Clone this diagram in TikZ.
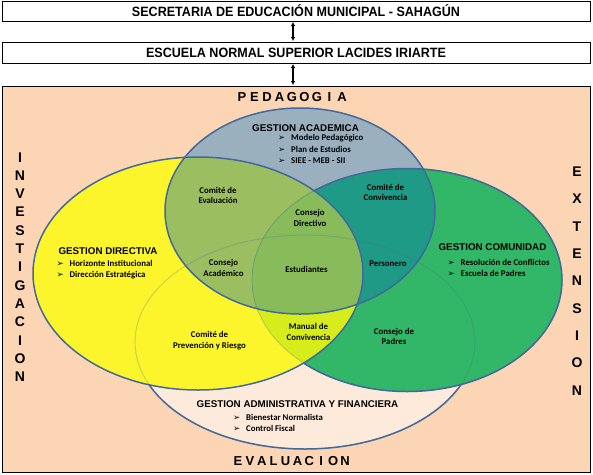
\documentclass[tikz,border=0pt]{standalone}
\usepackage{fontspec}
\setmainfont{Liberation Sans}
\newfontfamily\hdfont{Liberation Sans}[FakeStretch=0.93]
\newfontfamily\calfont{Carlito}
\newfontfamily\djv{DejaVu Sans}
\usetikzlibrary{arrows.meta}
\definecolor{peach}{HTML}{FCD5B5}
\definecolor{admcol}{HTML}{FDEADA}
\definecolor{grncol}{HTML}{32B768}
\definecolor{yelcol}{HTML}{FDF52B}
\definecolor{ygcol}{HTML}{D6ED1B}
\definecolor{blucol}{HTML}{9AB0BF}
\definecolor{bycol}{HTML}{9BBE60}
\definecolor{bgcol}{HTML}{1F9A87}
\definecolor{bygcol}{HTML}{88BC5B}
\definecolor{edgecol}{HTML}{41699B}
\newlength\ltw
\newcommand\lt[1]{\makebox[\ltw][c]{#1}}
\newcommand\bul{\makebox[13pt][l]{\djv\bfseries\fontsize{8.6}{8}\selectfont ➢}}
\def\Eadm{(305,342) ellipse [x radius=170pt, y radius=107pt]}
\def\Egrn{(407,280) ellipse [x radius=155pt, y radius=111.5pt]}
\def\Eyel{(198,273.5) ellipse [x radius=165pt, y radius=116.5pt]}
\def\Eblu{(300,211) ellipse [x radius=135pt, y radius=103pt]}
\begin{document}
\begin{tikzpicture}[x=1pt,y=-1pt,
  boxst/.style={draw=black, line width=1pt, fill=white, minimum width=588pt, inner sep=0pt,
     font=\hdfont\bfseries\fontsize{13.5}{14}\selectfont},
  dbl/.style={{Latex[length=4pt,width=4.5pt]}-{Latex[length=4pt,width=4.5pt]}, line width=1.3pt, shorten <=0.5pt, shorten >=0.5pt},
  edgeline/.style={draw=edgecol, line width=1.5pt},
  faint/.style={draw=edgecol, line width=1.2pt, draw opacity=0.22},
  lbl/.style={font=\calfont\bfseries\fontsize{8.8}{10.8}\selectfont, align=center, inner sep=0pt},
  hd/.style={font=\bfseries\fontsize{9.8}{11}\selectfont, inner sep=0pt},
  bl/.style={font=\calfont\bfseries\fontsize{8.8}{10}\selectfont, anchor=base west, inner sep=0pt},
  vt/.style={font=\bfseries\fontsize{14}{18.3}\selectfont, align=center, inner sep=0pt},
  sp/.style={font=\bfseries\fontsize{13}{14}\selectfont, inner sep=0pt}
]
\useasboundingbox (0,0) rectangle (593,474);
% top boxes
\node[boxst, minimum height=20pt] (sec) at (296,11) {SECRETARIA DE EDUCACIÓN MUNICIPAL - SAHAGÚN};
\node[boxst, minimum height=21pt] (esc) at (296,52.5) {ESCUELA NORMAL SUPERIOR LACIDES IRIARTE};
\node[draw=black, line width=1pt, fill=peach, minimum width=588pt, minimum height=386pt, inner sep=0pt] (area) at (296,279) {};
\coordinate (ax) at (293,0);
\draw[dbl] (sec.south -| ax) -- (esc.north -| ax);
\draw[dbl] (esc.south -| ax) -- (area.north -| ax);
% ellipses: fills
\fill[admcol] \Eadm;
\draw[edgeline] \Eadm;
\fill[grncol] \Egrn;
\draw[edgeline] \Egrn;
\fill[yelcol] \Eyel;
\begin{scope}
  \clip \Eyel;
  \fill[ygcol] \Egrn;
\end{scope}
\fill[blucol] \Eblu;
\begin{scope}
  \clip \Eblu;
  \fill[bycol] \Eyel;
  \fill[bgcol] \Egrn;
  \clip \Eyel;
  \fill[bygcol] \Egrn;
\end{scope}
% faint outlines
\draw[faint] \Eadm;
\draw[faint] \Egrn;
% green outline dark inside blue, outside yellow
\begin{scope}
  \clip \Eblu;
  \begin{scope}[even odd rule]
    \clip (-20,-20) rectangle (620,500) \Eyel;
    \draw[edgeline] \Egrn;
  \end{scope}
\end{scope}
\draw[edgeline] \Eyel;
\draw[edgeline] \Eblu;
% side texts
\node[sp] (ped) at (292,97) {\setlength\ltw{12.5pt}\lt P\lt E\lt D\lt A\lt G\lt O\lt G\lt I\lt A};
\node[sp] (eva) at (291.5,461) {\setlength\ltw{11.9pt}\lt E\lt V\lt A\lt L\lt U\lt A\lt C\lt I\lt O\lt N};
\node[vt] (inv) at (20,267) {I\\N\\V\\E\\S\\T\\I\\G\\A\\C\\I\\O\\N};
\node[vt, font=\bfseries\fontsize{14}{27.3}\selectfont] (ext) at (577,281) {E\\X\\T\\E\\N\\S\\I\\O\\N};
% gestion academica
\node[hd] (ga) at (305.5,128.3) {GESTION ACADEMICA};
\node[bl] (ga1) at (278,140.7) {\bul Modelo Pedagógico};
\node[bl] (ga2) at (278,152.3) {\bul Plan de Estudios};
\node[bl] (ga3) at (278,163.3) {\bul SIEE - MEB - SII};
% gestion directiva
\node[hd] (gd) at (108,250.7) {GESTION DIRECTIVA};
\node[bl] (gd1) at (56.5,266.3) {\bul Horizonte Institucional};
\node[bl] (gd2) at (56.5,277.3) {\bul Dirección Estratégica};
% gestion comunidad
\node[hd] (gc) at (492.5,246.7) {GESTION COMUNIDAD};
\node[bl] (gc1) at (447.5,265.3) {\bul Resolución de Conflictos};
\node[bl] (gc2) at (447.5,276) {\bul Escuela de Padres};
% gestion administrativa
\node[hd] (gf) at (297.5,404.3) {GESTION ADMINISTRATIVA Y FINANCIERA};
\node[bl] (gf1) at (233,420.3) {\bul Bienestar Normalista};
\node[bl] (gf2) at (233,431) {\bul Control Fiscal};
% labels
\node[lbl] (ce) at (218,195.5) {Comité de\\Evaluación};
\node[lbl] (cc) at (385.5,192.5) {Comité de\\Convivencia};
\node[lbl] (cd) at (310,218) {Consejo\\Directivo};
\node[lbl] (ca) at (223.5,268) {Consejo\\Académico};
\node[lbl] (es) at (306.5,269.3) {Estudiantes};
\node[lbl] (pe) at (388,263.3) {Personero};
\node[lbl] (cp) at (209.5,341) {Comité de\\Prevención y Riesgo};
\node[lbl] (mc) at (308.5,332) {Manual de\\Convivencia};
\node[lbl] (cpa) at (394,336.5) {Consejo de\\Padres};
\end{tikzpicture}
\end{document}
